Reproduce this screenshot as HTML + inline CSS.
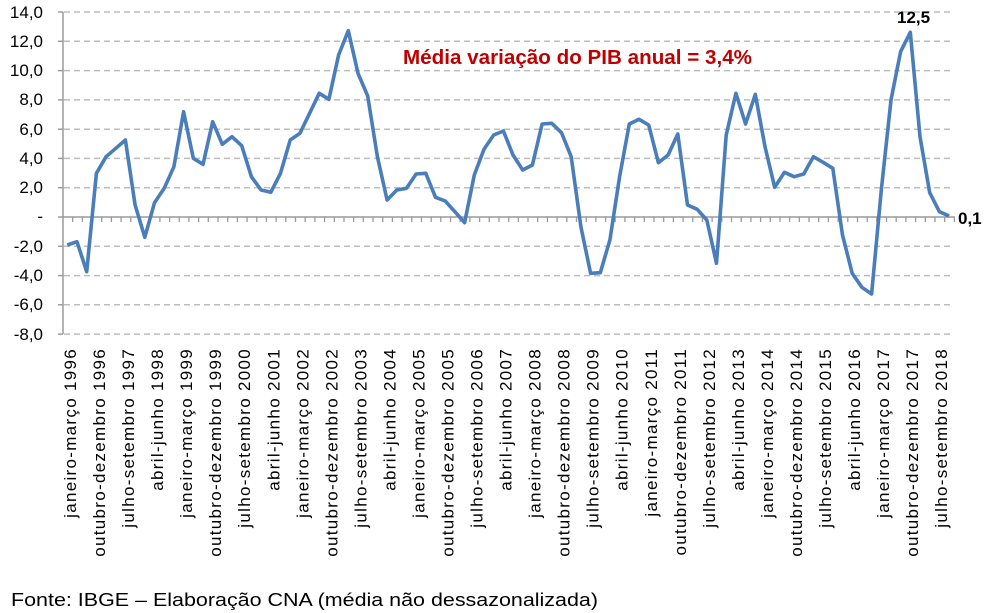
<!DOCTYPE html>
<html><head><meta charset="utf-8"><style>
body{margin:0;background:#fff;}
svg{display:block;font-family:"Liberation Sans",Arial,sans-serif;}
</style></head><body>
<svg width="993" height="613" viewBox="0 0 993 613" xmlns="http://www.w3.org/2000/svg">
<g stroke="#bdbdbd" stroke-width="1.5" stroke-dasharray="6,4">
<line x1="64" x2="953" y1="12" y2="12"/><line x1="64" x2="953" y1="41.3" y2="41.3"/>
<line x1="64" x2="953" y1="70.6" y2="70.6"/><line x1="64" x2="953" y1="99.9" y2="99.9"/>
<line x1="64" x2="953" y1="129.2" y2="129.2"/><line x1="64" x2="953" y1="158.4" y2="158.4"/>
<line x1="64" x2="953" y1="187.7" y2="187.7"/><line x1="64" x2="953" y1="246.3" y2="246.3"/>
<line x1="64" x2="953" y1="275.6" y2="275.6"/><line x1="64" x2="953" y1="304.8" y2="304.8"/>
<line x1="64" x2="953" y1="334.1" y2="334.1"/>
</g>
<g stroke="#9a9a9a" stroke-width="1.5">
<line x1="63" x2="63" y1="12" y2="334"/>
<line x1="63" x2="955" y1="217" y2="217"/>
<line x1="58" x2="63" y1="12" y2="12"/><line x1="58" x2="63" y1="41.3" y2="41.3"/>
<line x1="58" x2="63" y1="70.6" y2="70.6"/><line x1="58" x2="63" y1="99.9" y2="99.9"/>
<line x1="58" x2="63" y1="129.2" y2="129.2"/><line x1="58" x2="63" y1="158.4" y2="158.4"/>
<line x1="58" x2="63" y1="187.7" y2="187.7"/><line x1="58" x2="63" y1="217" y2="217"/>
<line x1="58" x2="63" y1="246.3" y2="246.3"/><line x1="58" x2="63" y1="275.6" y2="275.6"/>
<line x1="58" x2="63" y1="304.8" y2="304.8"/><line x1="58" x2="63" y1="334.1" y2="334.1"/>
</g>
<path stroke="#9a9a9a" stroke-width="1.3" d="M72.7 217v5M82.4 217v5M92 217v5M101.7 217v5M111.4 217v5M121.1 217v5M130.8 217v5M140.5 217v5M150.2 217v5M159.9 217v5M169.6 217v5M179.2 217v5M188.9 217v5M198.6 217v5M208.3 217v5M218 217v5M227.7 217v5M237.4 217v5M247.1 217v5M256.8 217v5M266.4 217v5M276.1 217v5M285.8 217v5M295.5 217v5M305.2 217v5M314.9 217v5M324.6 217v5M334.3 217v5M344 217v5M353.6 217v5M363.3 217v5M373 217v5M382.7 217v5M392.4 217v5M402.1 217v5M411.8 217v5M421.5 217v5M431.2 217v5M440.8 217v5M450.5 217v5M460.2 217v5M469.9 217v5M479.6 217v5M489.3 217v5M499 217v5M508.7 217v5M518.4 217v5M528 217v5M537.7 217v5M547.4 217v5M557.1 217v5M566.8 217v5M576.5 217v5M586.2 217v5M595.9 217v5M605.6 217v5M615.2 217v5M624.9 217v5M634.6 217v5M644.3 217v5M654 217v5M663.7 217v5M673.4 217v5M683.1 217v5M692.8 217v5M702.4 217v5M712.1 217v5M721.8 217v5M731.5 217v5M741.2 217v5M750.9 217v5M760.6 217v5M770.3 217v5M780 217v5M789.6 217v5M799.3 217v5M809 217v5M818.7 217v5M828.4 217v5M838.1 217v5M847.8 217v5M857.5 217v5M867.2 217v5M876.8 217v5M886.5 217v5M896.2 217v5M905.9 217v5M915.6 217v5M925.3 217v5M935 217v5M944.7 217v5M954.4 217v5"/>
<g font-size="17" fill="#000" text-anchor="end">
<text x="43" y="18">14,0</text><text x="43" y="47">12,0</text><text x="43" y="76">10,0</text>
<text x="43" y="105">8,0</text><text x="43" y="135">6,0</text><text x="43" y="164">4,0</text>
<text x="43" y="193">2,0</text><text x="43" y="222">-</text><text x="43" y="252">-2,0</text>
<text x="43" y="281">-4,0</text><text x="43" y="310">-6,0</text><text x="43" y="340">-8,0</text>
</g>
<polyline transform="translate(-1.5,0)" fill="none" stroke="#4a7ebb" stroke-width="3.6" stroke-linejoin="round" points="68.8,245 78.5,241.7 88.2,271.7 97.9,173.3 107.6,156.7 117.3,148.3 126.9,140 136.6,205 146.3,237.3 156,202.7 165.7,188.3 175.4,166.7 185.1,111.7 194.8,158.3 204.5,164.3 214.2,121.7 223.8,144.3 233.5,136.7 243.2,145.7 252.9,176.7 262.6,190 272.3,192.3 282,173.3 291.7,140 301.4,133.3 311.1,113.3 320.7,93.3 330.4,99.3 340.1,55 349.8,30.7 359.5,73.3 369.2,96 378.9,156.7 388.6,200 398.3,190 408,188.3 417.6,174 427.3,173.3 437,197.3 446.7,201 456.4,211.7 466.1,222.7 475.8,175 485.5,149.3 495.2,135 504.9,131 514.5,155 524.2,170 533.9,165 543.6,124 553.3,123.3 563,132.7 572.7,156.7 582.4,226.7 592.1,273.3 601.8,272.7 611.4,240 621.1,176.7 630.8,124 640.5,119.3 650.2,125 659.9,162.7 669.6,155 679.3,134 689,205 698.7,209.3 708.3,220 718,263.3 727.7,135 737.4,93.3 747.1,124 756.8,94.3 766.5,146.7 776.2,187.3 785.9,172.3 795.6,176.7 805.2,174 814.9,156.7 824.6,162.3 834.3,168.3 844,235 853.7,273.3 863.4,287.3 873.1,294 882.8,190 892.5,100 902.1,51.7 911.8,32.3 921.5,136.7 931.2,192.7 940.9,211.7 950.6,216"/>
<text x="403" y="64" font-size="20" font-weight="bold" fill="#c00000" textLength="349" lengthAdjust="spacingAndGlyphs">Média variação do PIB anual = 3,4%</text>
<text x="897" y="23" font-size="17" font-weight="bold" fill="#000">12,5</text>
<text x="958" y="224" font-size="17" font-weight="bold" fill="#000">0,1</text>
<g font-size="17" fill="#000" text-anchor="end" letter-spacing="1.3">
<text transform="translate(76,348) rotate(-90)">janeiro-março 1996</text>
<text transform="translate(105,348) rotate(-90)">outubro-dezembro 1996</text>
<text transform="translate(134,348) rotate(-90)">julho-setembro 1997</text>
<text transform="translate(163.1,348) rotate(-90)">abril-junho 1998</text>
<text transform="translate(192.1,348) rotate(-90)">janeiro-março 1999</text>
<text transform="translate(221.2,348) rotate(-90)">outubro-dezembro 1999</text>
<text transform="translate(250.2,348) rotate(-90)">julho-setembro 2000</text>
<text transform="translate(279.3,348) rotate(-90)">abril-junho 2001</text>
<text transform="translate(308.3,348) rotate(-90)">janeiro-março 2002</text>
<text transform="translate(337.3,348) rotate(-90)">outubro-dezembro 2002</text>
<text transform="translate(366.4,348) rotate(-90)">julho-setembro 2003</text>
<text transform="translate(395.4,348) rotate(-90)">abril-junho 2004</text>
<text transform="translate(424.5,348) rotate(-90)">janeiro-março 2005</text>
<text transform="translate(453.5,348) rotate(-90)">outubro-dezembro 2005</text>
<text transform="translate(482.5,348) rotate(-90)">julho-setembro 2006</text>
<text transform="translate(511.6,348) rotate(-90)">abril-junho 2007</text>
<text transform="translate(540.6,348) rotate(-90)">janeiro-março 2008</text>
<text transform="translate(569.7,348) rotate(-90)">outubro-dezembro 2008</text>
<text transform="translate(598.7,348) rotate(-90)">julho-setembro 2009</text>
<text transform="translate(627.7,348) rotate(-90)">abril-junho 2010</text>
<text transform="translate(656.8,348) rotate(-90)">janeiro-março 2011</text>
<text transform="translate(685.8,348) rotate(-90)">outubro-dezembro 2011</text>
<text transform="translate(714.9,348) rotate(-90)">julho-setembro 2012</text>
<text transform="translate(743.9,348) rotate(-90)">abril-junho 2013</text>
<text transform="translate(772.9,348) rotate(-90)">janeiro-março 2014</text>
<text transform="translate(802,348) rotate(-90)">outubro-dezembro 2014</text>
<text transform="translate(831,348) rotate(-90)">julho-setembro 2015</text>
<text transform="translate(860.1,348) rotate(-90)">abril-junho 2016</text>
<text transform="translate(889.1,348) rotate(-90)">janeiro-março 2017</text>
<text transform="translate(918.1,348) rotate(-90)">outubro-dezembro 2017</text>
<text transform="translate(947.2,348) rotate(-90)">julho-setembro 2018</text>
</g>
<text x="11" y="606" font-size="18" fill="#000" textLength="587" lengthAdjust="spacingAndGlyphs">Fonte: IBGE – Elaboração CNA (média não dessazonalizada)</text>
</svg>
</body></html>
